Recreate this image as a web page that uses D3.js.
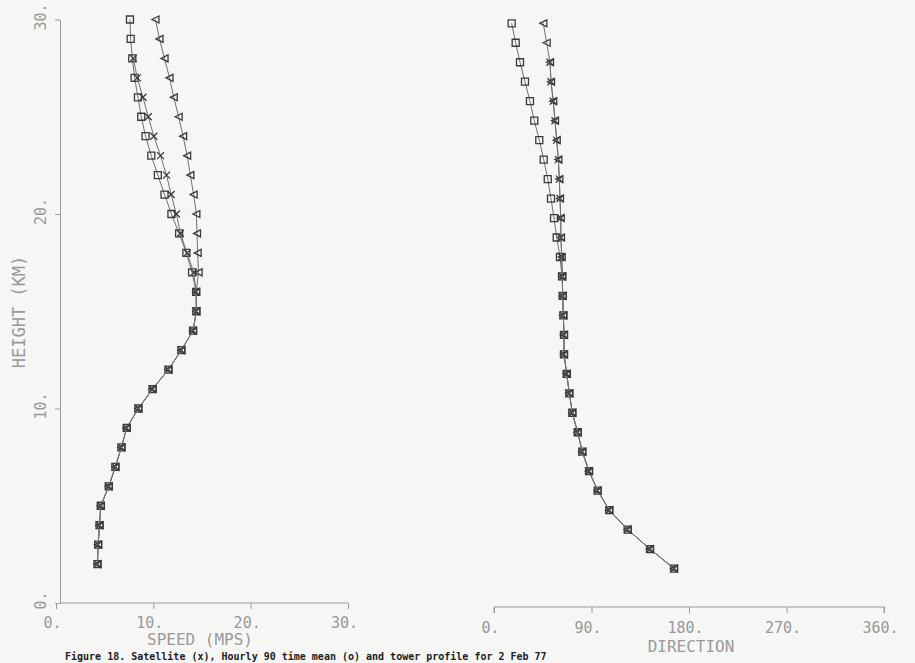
<!DOCTYPE html>
<html><head><meta charset="utf-8">
<script src="https://cdn.jsdelivr.net/npm/d3@7"></script>
<style>
html,body{margin:0;padding:0;background:#f6f6f5;overflow:hidden}
svg{display:block}
text{font-family:"DejaVu Sans Mono",monospace}
</style></head>
<body><svg id="c" width="915" height="663"></svg>
<script>
// Heights (km) of the profile levels
const heights = d3.range(2, 31);            // 2..30 km
const heightsX = d3.range(2, 29);           // X series stops at 28 km
// Shared lower profile (2..16 km)
const speedLow = [4.26,4.33,4.47,4.60,5.42,6.10,6.72,7.26,8.46,9.92,11.55,12.88,14.08,14.42,14.40];
const dirLow   = [166.2,144.0,123.4,106.4,95.7,87.7,81.5,77.2,72.3,69.5,67.1,64.6,64.6,64.0,63.4];
// Upper profiles 17..30 km
const speedSqUp  = [13.98,13.39,12.65,11.86,11.15,10.46,9.79,9.20,8.76,8.42,8.08,7.84,7.67,7.60];
const speedXUp   = [14.14,13.47,12.78,12.37,11.83,11.35,10.74,10.05,9.48,8.93,8.35,7.94];
const speedTriUp = [14.65,14.55,14.49,14.42,14.14,13.80,13.47,13.06,12.60,12.10,11.66,11.15,10.63,10.22];
const dirSqUp    = [62.8,60.9,57.9,55.4,52.6,49.6,45.9,41.8,37.2,33.2,28.6,24.0,20.0,16.3];
const dirXUp     = [63.1,62.5,61.8,61.6,60.9,60.3,59.4,57.9,56.3,54.7,52.6,51.7];
const dirTriUp   = [63.1,62.5,61.8,61.6,60.9,60.3,59.4,57.9,56.3,54.7,52.6,51.7,48.6,45.5];
// Tick labels
const heightTicks = [0,10,20,30];
const speedTicks = [0,10,20,30];
const dirTicks = [0,90,180,270,360];
const caption = "Figure 18.  Satellite (x), Hourly 90 time mean (o) and tower profile for 2 Feb 77";

const svg = d3.select("#c");
const grey = "#999999";
const lineCol = "#707070";
const markCol = "#3a3a3a";

const mk = (hs, low, up) => hs.map((h,i)=>({h, v: i < low.length ? low[i] : up[i-low.length]}));
const spSq = mk(heights, speedLow, speedSqUp), spX = mk(heightsX, speedLow, speedXUp), spTri = mk(heights, speedLow, speedTriUp);
const drSq = mk(heights, dirLow, dirSqUp), drX = mk(heightsX, dirLow, dirXUp), drTri = mk(heights, dirLow, dirTriUp);

// Scales
const yL = d3.scaleLinear().domain([0,30]).range([603,19.5]);
const yR = d3.scaleLinear().domain([0,30]).range([607.5,23.3]);
const xS = d3.scaleLinear().domain([0,30]).range([56,348]);
const xD = d3.scaleLinear().domain([0,360]).range([494,884]);

function styleAxis(g){
  g.select(".domain").attr("stroke", grey).attr("stroke-width",1);
  g.selectAll(".tick line").attr("stroke", grey);
  g.selectAll(".tick text").attr("fill", grey).attr("font-size", 15).attr("font-family","DejaVu Sans Mono, monospace");
}

// Left y axis
const gy = svg.append("g").attr("transform","translate(60,0)")
  .call(d3.axisLeft(yL).tickValues(heightTicks).tickFormat(d=>d+".").tickSize(5).tickSizeOuter(0));
styleAxis(gy);
gy.selectAll(".tick text").attr("transform","rotate(-90)").attr("text-anchor","middle")
  .attr("x", 3).attr("y", -14).attr("dy","0");

// Left x axis
const gx = svg.append("g").attr("transform","translate(0,603)")
  .call(d3.axisBottom(xS).tickValues(speedTicks).tickFormat(d=>d+".").tickSize(6).tickSizeOuter(0));
styleAxis(gx);
gx.select(".domain").attr("d","M60,0H348");
gx.selectAll(".tick text").attr("dx",-4).attr("y",25).attr("dy",0);

// Right x axis
const gx2 = svg.append("g").attr("transform","translate(0,607)")
  .call(d3.axisBottom(xD).tickValues(dirTicks).tickFormat(d=>d+".").tickSize(6).tickSizeOuter(0));
styleAxis(gx2);
gx2.select(".domain").attr("d","M494,6V0H884V6");
gx2.selectAll(".tick text").attr("dx",-4).attr("y",26).attr("dy",0);

// Axis titles
svg.append("text").attr("x",200).attr("y",645).attr("text-anchor","middle")
  .attr("fill",grey).attr("font-size",16).text("SPEED (MPS)");
svg.append("text").attr("x",691).attr("y",652).attr("text-anchor","middle")
  .attr("fill",grey).attr("font-size",16).text("DIRECTION");
svg.append("text").attr("transform","translate(25,312) rotate(-90)").attr("text-anchor","middle")
  .attr("fill",grey).attr("font-size",17).text("HEIGHT (KM)");

// Caption (at the page bottom)
svg.append("text").attr("x",65).attr("y",660).attr("fill","#222").attr("font-size",10)
  .attr("font-weight","bold").text(caption);

// Lines and markers
function drawSeries(data, xs, ys, kind){
  const line = d3.line().x(d=>xs(d.v)).y(d=>ys(d.h));
  svg.append("path").datum(data).attr("d", line).attr("fill","none")
    .attr("stroke", lineCol).attr("stroke-width",1);
  const g = svg.append("g").attr("fill","none").attr("stroke", markCol).attr("stroke-width",1.3);
  const s = 3.5;
  g.selectAll("path").data(data).join("path")
    .attr("transform", d=>`translate(${xs(d.v)},${ys(d.h)})`)
    .attr("d", kind==="sq" ? `M${-s},${-s}H${s}V${s}H${-s}Z`
             : kind==="x" ? `M${-s},${-s}L${s},${s}M${s},${-s}L${-s},${s}`
             : `M${s},${-s}L${-s},0L${s},${s}Z`);
}
drawSeries(spSq, xS, yL, "sq");
drawSeries(spX, xS, yL, "x");
drawSeries(spTri, xS, yL, "tri");
drawSeries(drSq, xD, yR, "sq");
drawSeries(drX, xD, yR, "x");
drawSeries(drTri, xD, yR, "tri");
</script></body></html>
